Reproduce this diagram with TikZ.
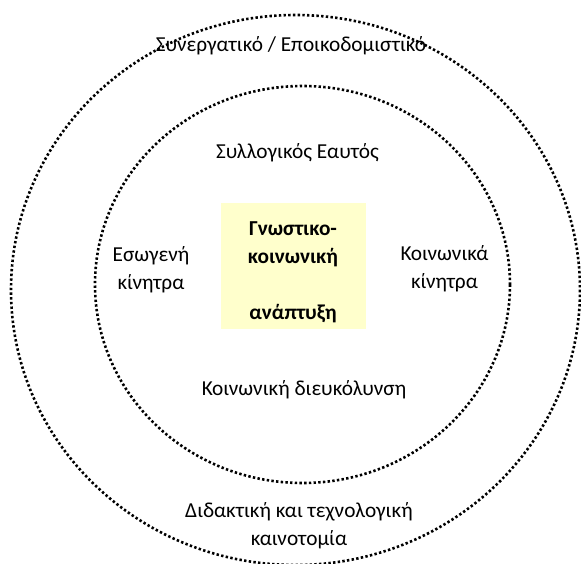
\documentclass[tikz,border=0pt]{standalone}
\usepackage{fontspec}
\setmainfont{Carlito}
\usepackage{xcolor}
\usetikzlibrary{positioning}
\definecolor{coreyellow}{RGB}{255,255,204}

\begin{document}
\begin{tikzpicture}[
      x=1pt, y=-1pt,
      ring/.style={
        line width=2.6pt,
        dash pattern=on 2.4pt off 2.3pt % Square dots like the original
      },
      ringtext/.style={
        align=center,
        inner sep=0pt,
        anchor=base, % base of the last line
        font=\fontsize{21.3}{28}\selectfont
      },
      core/.style={
        fill=coreyellow,
        minimum width=145pt,
        minimum height=126pt,
        inner sep=0pt
      },
      coretext/.style={ringtext, font=\fontsize{21.3}{28}\selectfont\bfseries}
    ]
    \useasboundingbox (0,0) rectangle (581,563);

    % Draw rings
    \draw [ring] (295.5,290) ellipse [x radius=284.5, y radius=275];
    \draw [ring] (302.5,284.5) ellipse [x radius=207.5, y radius=198.5];

    % Place nodes
    \node [core] (core) at (293.5,266) {};
    \node [coretext] (growth) at (293,319) {Γνωστικο-\\κοινωνική\\[28pt]ανάπτυξη};
    \node [ringtext] (constr) at (291,51) {Συνεργατικό / Εποικοδομιστικό};
    \node [ringtext] (self) at (297.5,158) {Συλλογικός Εαυτός};
    \node [ringtext] (intrinsic) at (151,289) {Εσωγενή\\κίνητρα};
    \node [ringtext] (social) at (444.5,288) {Κοινωνικά\\κίνητρα};
    \node [ringtext] (facil) at (304,395) {Κοινωνική διευκόλυνση};
    \node [ringtext] (innov) at (299,545) {Διδακτική και τεχνολογική\\καινοτομία};
  \end{tikzpicture}
\end{document}
